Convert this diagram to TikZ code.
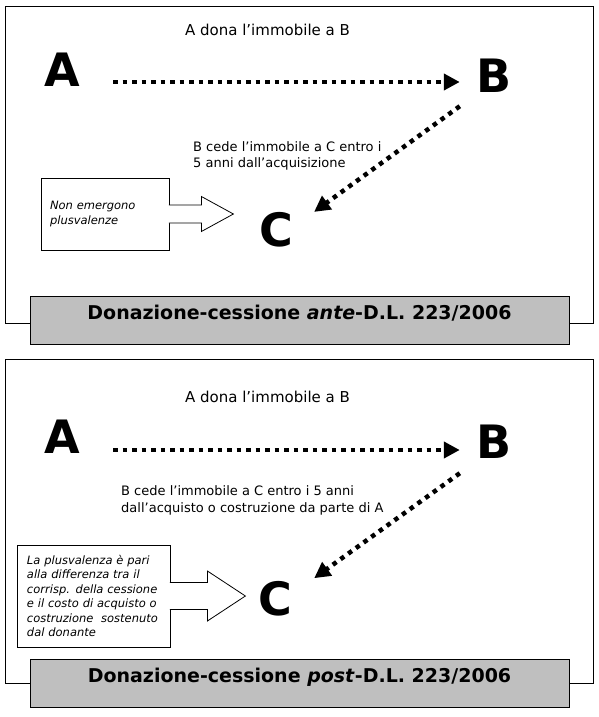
\documentclass[tikz,border=0pt]{standalone}
\usepackage{fontspec}
\setmainfont{DejaVu Sans}
\usepackage{tikz}
\usetikzlibrary{positioning,arrows.meta,calc}

\begin{document}
\begin{tikzpicture}[
  x=1pt, y=-1pt,
  cornice/.style={draw, line width=0.8pt},
  grigio/.style={draw, line width=0.8pt, fill=black!25, minimum width=539pt, minimum height=48pt},
  titolo/.style={inner sep=0pt, font=\fontsize{19}{22}\selectfont\bfseries},
  lettera/.style={inner sep=0pt, font=\fontsize{46}{50}\selectfont\bfseries},
  dida/.style={inner sep=0pt, font=\fontsize{15}{18}\selectfont},
  passaggio/.style={inner sep=0pt, align=left, font=\fontsize{13}{16.5}\selectfont},
  nota/.style={draw, line width=0.8pt, fill=white, align=left,
               font=\fontsize{11.5}{14.5}\selectfont\itshape},
  freccia/.style={line width=4.5pt, dash pattern=on 4.5pt off 5pt,
                  -{Triangle[length=16pt,width=16pt]}},
  blocco/.style={draw, line width=0.8pt, fill=white}
]
  \useasboundingbox (0,0) rectangle (599,717);

  % ante
  \draw[cornice] (5,6) rectangle (593,323);
  \node[dida] (dona1) at (267.5,30) {A dona l’immobile a B};
  \node[lettera] (A1) at (62,69.5) {A};
  \node[lettera] (B1) at (494,75.5) {B};
  \node[lettera] (C1) at (276,229.5) {C};
  \node[passaggio, anchor=west] (cede1) at (193,156)
    {B cede l’immobile a C entro i\\5 anni dall’acquisizione};
  \node[nota, text width=110pt, inner sep=9pt, minimum height=72pt] (nota1) at (105,214)
    {Non emergono\\plusvalenze};
  \draw[blocco] ([xshift=-0.6pt,yshift=9pt]nota1.east) -- ++(32.6,0) -- ++(0,-8.5) -- ++(32,17.5)
    -- ++(-32,17.5) -- ++(0,-8.5) -- ++(-32.6,0);
  \draw[freccia] ([xshift=33pt,yshift=-12.5pt]A1.east) -- ([xshift=-16.5pt,yshift=-6.5pt]B1.west);
  \draw[freccia] ([xshift=-16.5pt,yshift=-13.75pt]B1.south west) -- ([xshift=21pt]C1.north east);
  \node[grigio] (g1) at (299.5,320) {};
  \node[titolo, below=9.5pt of g1.north] (t1) {Donazione-cessione \textit{ante}-D.L. 223/2006};

  % post
  \draw[cornice] (5,359) rectangle (593,683);
  \node[dida] (dona2) at (267.5,397) {A dona l’immobile a B};
  \node[lettera] (A2) at (62,437) {A};
  \node[lettera] (B2) at (494,441.5) {B};
  \node[lettera] (C2) at (275.5,599) {C};
  \node[passaggio, anchor=west] (cede2) at (121,500.5)
    {B cede l’immobile a C entro i 5 anni\\dall’acquisto o costruzione da parte di A};
  \node[nota, text width=133pt, inner sep=10pt, minimum height=102pt] (nota2) at (93.5,596)
    {La plusvalenza è pari\\alla differenza tra il\\corrisp. della cessione\\e il costo di acquisto o\\costruzione\ \ sostenuto\\dal donante};
  \draw[blocco] ([xshift=-0.6pt,yshift=13.5pt]nota2.east) -- ++(37.6,0) -- ++(0,-11.5) -- ++(38,25)
    -- ++(-38,25) -- ++(0,-11.5) -- ++(-37.6,0);
  \draw[freccia] ([xshift=33pt,yshift=-13pt]A2.east) -- ([xshift=-16.5pt,yshift=-8.5pt]B2.west);
  \draw[freccia] ([xshift=-16.5pt,yshift=-14.75pt]B2.south west) -- ([xshift=21.6pt,yshift=3.25pt]C2.north east);
  \node[grigio] (g2) at (299.5,683) {};
  \node[titolo, below=9.5pt of g2.north] (t2) {Donazione-cessione \textit{post}-D.L. 223/2006};
\end{tikzpicture}
\end{document}
